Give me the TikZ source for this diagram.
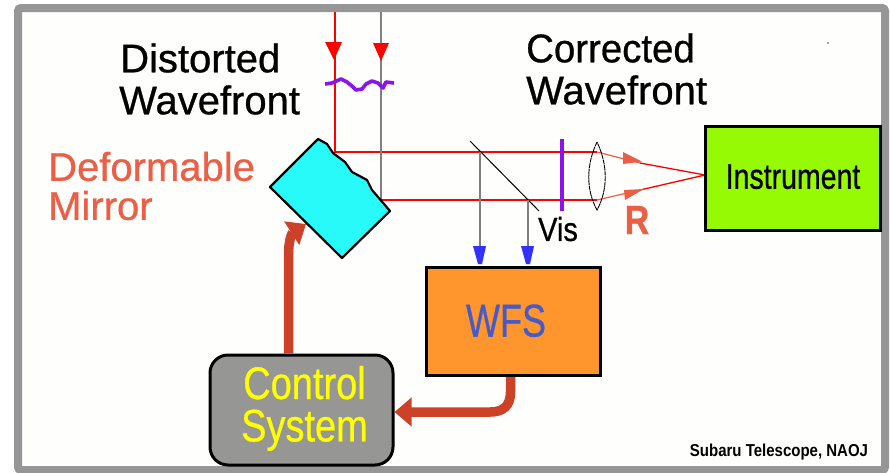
\documentclass[tikz,border=0pt]{standalone}
\usepackage{graphicx}
\usepackage{fontspec}
\setmainfont{Liberation Sans}
\newfontfamily\fbb[FakeBold=0.7]{Liberation Sans}
\newcommand{\tallt}[2]{\scalebox{1}[#1]{#2}}
\usetikzlibrary{arrows.meta}
\definecolor{framegray}{RGB}{150,150,150}
\definecolor{brickred}{RGB}{205,65,40}
\definecolor{salmon}{RGB}{235,95,70}
\definecolor{mirrorcyan}{RGB}{40,250,250}
\definecolor{wfsorange}{RGB}{255,150,45}
\definecolor{instgreen}{RGB}{150,250,5}
\definecolor{boxgray}{RGB}{150,150,148}
\definecolor{wavepurple}{RGB}{140,20,235}
\definecolor{wfsblue}{RGB}{70,90,200}
\definecolor{arrowblue}{RGB}{50,50,255}
\definecolor{ctlyellow}{RGB}{255,255,0}
\definecolor{paper}{RGB}{254,254,252}
\tikzset{
  x=1pt,y=-1pt,
  txt/.style={inner sep=0pt,align=center},
  big/.style={font=\fbb\fontsize{40}{40}\selectfont},
  boxa/.style={draw=black,line width=3pt},
  redray/.style={draw=red,line width=1.3pt},
  grayray/.style={draw=gray,line width=1.3pt},
  fat/.style={draw=brickred,line width=9.5pt},
}
\begin{document}
\begin{tikzpicture}
\useasboundingbox (0,0) rectangle (890,472);
\fill[white] (0,0) rectangle (890,472);
\draw[framegray,fill=paper,line width=8pt,rounded corners=3pt] (18,8) rectangle (885,470);

% rays
\coordinate (r1top) at (335,12);
\coordinate (r1m) at (335,152);
\coordinate (g1top) at (381,12);
\coordinate (r2m) at (381,200);
\coordinate (lensA) at (597,152);
\coordinate (lensB) at (597,200);
\coordinate (focus) at (705,175);
\draw[redray] (r1top) -- (r1m) -- (lensA);
\draw[grayray] (g1top) -- (r2m);
\draw[redray] (r2m) -- (lensB);
\draw[redray] (640,163) -- (focus);
\draw[redray] (640,190) -- (focus);
\draw[salmon,line width=1.2pt] (lensA) -- (640,163);
\draw[salmon,line width=1.2pt] (lensB) -- (640,190);

% red arrowheads
\fill[red] (325,42) -- (342,42) -- (334,60) -- cycle;
\fill[red] (373,43) -- (389,43) -- (381,61) -- cycle;
\fill[salmon] (623,152) -- (642,161.5) -- (623,164) -- cycle;
\fill[salmon] (624,190) -- (644,189) -- (625,200) -- cycle;

% wavefront
\draw[wavepurple,line width=3.6pt,line join=round] (325,84) -- (332,83) -- (341,79) -- (347,82) -- (353,87) -- (356,90) -- (362,89) -- (366,84) -- (372,81) -- (378,83) -- (383,88) -- (386,82) -- (394,83);

% mirror
\draw[boxa,fill=mirrorcyan,line width=2.2pt,line join=round] (270,187) -- (318,139) -- (327,144) -- (333,153) -- (345,162) -- (352,172) -- (367,180) -- (372,190) -- (390,211) -- (342,258) -- cycle;

% beam splitter, filter, lens
\draw[black,line width=1pt] (470,141) -- (539,211);
\draw[grayray] (480,152) -- (480,250);
\draw[grayray] (528,200) -- (528,250);
\fill[arrowblue] (473,246) -- (486,246) -- (482,264) -- (478,264) -- cycle;
\fill[arrowblue] (521,246) -- (534,246) -- (530,264) -- (526,264) -- cycle;
\draw[wavepurple,line width=3.4pt] (562,139) -- (562,211);
\draw[black,line width=.9pt,dash pattern=on 5pt off .6pt] (597,142) .. controls (586,165) and (586,190) .. (597,210) .. controls (608,190) and (608,165) .. (597,142) -- cycle;

% boxes
\node[boxa,fill=instgreen,minimum width=175pt,minimum height=104pt,inner sep=0pt,font=\fbb\fontsize{28.5}{30}\selectfont] (inst) at (793,178) {\raisebox{3pt}{\tallt{1.25}{Instrument}}};
\node[boxa,fill=wfsorange,minimum width=174pt,minimum height=108pt,inner sep=0pt,text=wfsblue,font=\fbb\fontsize{36}{42}\selectfont] (wfs) at (513.5,321.5) {\mbox{\raisebox{2pt}{\scalebox{1}[1.28]{WFS}}\hspace*{15pt}}};
\node[boxa,fill=boxgray,rounded corners=18pt,minimum width=183pt,minimum height=110pt,inner sep=0pt,text=ctlyellow,font=\fbb\fontsize{38}{42}\selectfont] (ctl) at (301.5,410) {\hspace{6pt}\raisebox{-3pt}{\begin{tabular}{@{}c@{}}\tallt{1.2}{Control}\\[-2pt]\tallt{1.2}{System}\end{tabular}}};

% control arrows
\coordinate (mirrorin) at (306,224);
\draw[fat,-{Triangle[length=17pt,width=27pt]}] (288.5,0 |- ctl.north) -- (288.5,255) .. controls (288.5,240) and (292,233) .. (mirrorin);
\draw[fat,-{Triangle[length=17pt,width=28pt]}] (510.5,0 |- wfs.south) -- (510.5,392) .. controls (510.5,406) and (503,412) .. (490,412) -- (ctl.east |- 0,412);

% labels
\node[txt,big,align=left,anchor=west] (dw) at (120,79) {Distorted\\[2pt]\hspace*{-1pt}Wavefront};
\node[txt,big,align=left,anchor=west] (cw) at (526,69) {\scalebox{.96}[1]{Corrected}\\[2pt]Wavefront};
\node[txt,big,text=salmon,align=left,anchor=west] (dm) at (48,186) {Deformable\\[-1pt]Mirror};
\node[txt,font=\fbb\fontsize{29}{30}\selectfont] (vis) at (558,229) {\tallt{1.15}{Vis}};
\node[txt,text=salmon,font=\fbb\bfseries\fontsize{34}{36}\selectfont] (rr) at (637,220) {\tallt{1.2}{R}};
\node[txt,font=\bfseries\fontsize{15}{18}\selectfont] (cr) at (779,452) {\tallt{1.15}{Subaru Telescope, NAOJ}};
\fill[black!70] (828,43) circle (.8pt);
\end{tikzpicture}
\end{document}
